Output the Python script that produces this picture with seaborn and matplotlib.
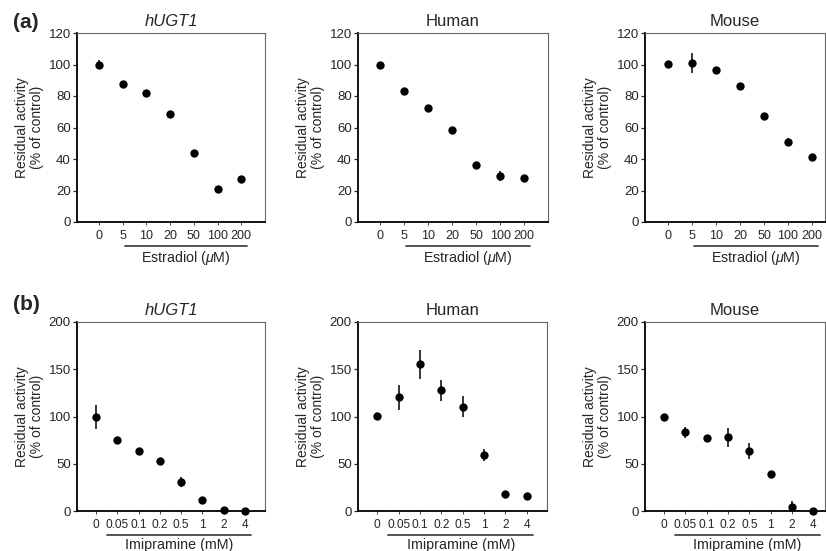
import matplotlib
matplotlib.use("Agg")
import matplotlib.pyplot as plt
import matplotlib.transforms as mtransforms
import numpy as np
import pandas as pd
import seaborn as sns

# Estradiol panels (a)
estradiol_doses = ["0", "5", "10", "20", "50", "100", "200"]
est_hugt1 = [100, 87.6, 81.7, 68.6, 43.6, 21.2, 27.1]
est_hugt1_err = [3.0, 1.8, 1.0, 1.0, 1.0, 1.0, 1.0]
est_human = [100, 83.4, 72.2, 58.4, 36.4, 29.2, 27.9]
est_human_err = [1.8, 1.0, 1.0, 1.0, 1.0, 3.0, 1.0]
est_mouse = [100.3, 100.7, 96.5, 86.1, 67.2, 51.1, 41.1]
est_mouse_err = [1.0, 6.4, 1.5, 1.0, 1.0, 2.0, 1.0]

# Imipramine panels (b)
imipramine_doses = ["0", "0.05", "0.1", "0.2", "0.5", "1", "2", "4"]
imi_hugt1 = [99.5, 74.8, 63.8, 52.6, 30.7, 11.3, 1.4, 0.0]
imi_hugt1_err = [13.0, 1.5, 1.5, 3.0, 5.0, 1.0, 1.0, 0.5]
imi_human = [100.2, 120.3, 155.2, 127.7, 110.4, 58.9, 17.6, 15.9]
imi_human_err = [1.5, 13.0, 15.0, 11.0, 11.0, 6.5, 1.0, 1.0]
imi_mouse = [99.8, 83.2, 76.9, 77.9, 63.5, 38.8, 4.6, 0.0]
imi_mouse_err = [1.5, 6.0, 4.0, 10.0, 8.0, 4.0, 6.0, 0.5]

titles = ["hUGT1", "Human", "Mouse"]

sns.set_theme(style="white")
plt.rcParams["font.family"] = ["Liberation Sans", "DejaVu Sans"]
plt.rcParams["mathtext.fontset"] = "custom"
plt.rcParams["mathtext.rm"] = "Liberation Sans"
plt.rcParams["mathtext.it"] = "Liberation Sans:italic"

W, H = 826, 551
fig = plt.figure(figsize=(W / 100, H / 100), dpi=100)


def px_axes(left, right, top, bottom):
    return fig.add_axes([left / W, (H - bottom) / H, (right - left) / W, (bottom - top) / H])


def draw_panel(ax, doses, vals, errs, title, ymax, ystep, xlim, xlabel, line_span, xsize):
    df = pd.DataFrame({"dose": doses, "val": vals})
    sns.stripplot(data=df, x="dose", y="val", order=doses, jitter=False,
                  color="black", size=6, ax=ax, zorder=3)
    for coll in ax.collections:
        coll.set_clip_on(False)
    ax.errorbar(np.arange(len(doses)), vals, yerr=errs, fmt="none",
                ecolor="black", elinewidth=1.1, capsize=0, clip_on=False, zorder=2)
    ax.set_xlim(*xlim)
    ax.set_ylim(0, ymax)
    ax.set_yticks(np.arange(0, ymax + 1, ystep))
    ax.set_xticks(np.arange(len(doses)))
    ax.set_xticklabels(doses)
    ax.set_xlabel("")
    ax.set_ylabel("Residual activity\n(% of control)", fontsize=10, linespacing=1.1, labelpad=3)
    style = "italic" if title == "hUGT1" else "normal"
    ax.set_title(title, fontsize=12, style=style, pad=5)
    ax.tick_params(axis="y", direction="out", length=3, width=0.9, labelsize=9.5, pad=1.5, left=True)
    ax.tick_params(axis="x", direction="out", length=2, width=0.6, labelsize=xsize, pad=4, bottom=True)
    for side in ["left", "bottom"]:
        ax.spines[side].set_color("black")
        ax.spines[side].set_linewidth(1.3)
    for side in ["top", "right"]:
        ax.spines[side].set_color("#666666")
        ax.spines[side].set_linewidth(0.8)
    trans = mtransforms.blended_transform_factory(ax.transData, ax.transAxes)
    ax.plot(line_span, [-0.127, -0.127], color="#444444", lw=1.3,
            transform=trans, clip_on=False)
    ax.text(sum(line_span) / 2, -0.145, xlabel, transform=trans, ha="center",
            va="top", fontsize=10.3)


est_sets = [(est_hugt1, est_hugt1_err), (est_human, est_human_err), (est_mouse, est_mouse_err)]
imi_sets = [(imi_hugt1, imi_hugt1_err), (imi_human, imi_human_err), (imi_mouse, imi_mouse_err)]

a_boxes = [(77, 265), (358, 548), (645, 825)]
a_xlims = [(-0.93, 7.0), (-0.93, 7.0), (-0.97, 6.55)]
b_boxes = [(77, 265), (358, 547), (645, 825)]
b_xlims = [(-0.9, 7.95), (-0.9, 7.95), (-0.9, 7.55)]

for i in range(3):
    ax = px_axes(a_boxes[i][0], a_boxes[i][1], 33, 222)
    draw_panel(ax, estradiol_doses, est_sets[i][0], est_sets[i][1], titles[i],
               120, 20, a_xlims[i], r"Estradiol ($\mathit{\mu}$M)", (1.08, 6.24), 9)

for i in range(3):
    ax = px_axes(b_boxes[i][0], b_boxes[i][1], 322, 511)
    draw_panel(ax, imipramine_doses, imi_sets[i][0], imi_sets[i][1], titles[i],
               200, 50, b_xlims[i], "Imipramine (mM)", (0.52, 7.3), 8.6)

fig.text(13 / W, 1 - 22 / H, "(a)", fontsize=15, fontweight="bold", va="center", ha="left")
fig.text(13 / W, 1 - 305 / H, "(b)", fontsize=15, fontweight="bold", va="center", ha="left")

fig.savefig("out.png", dpi=100)
